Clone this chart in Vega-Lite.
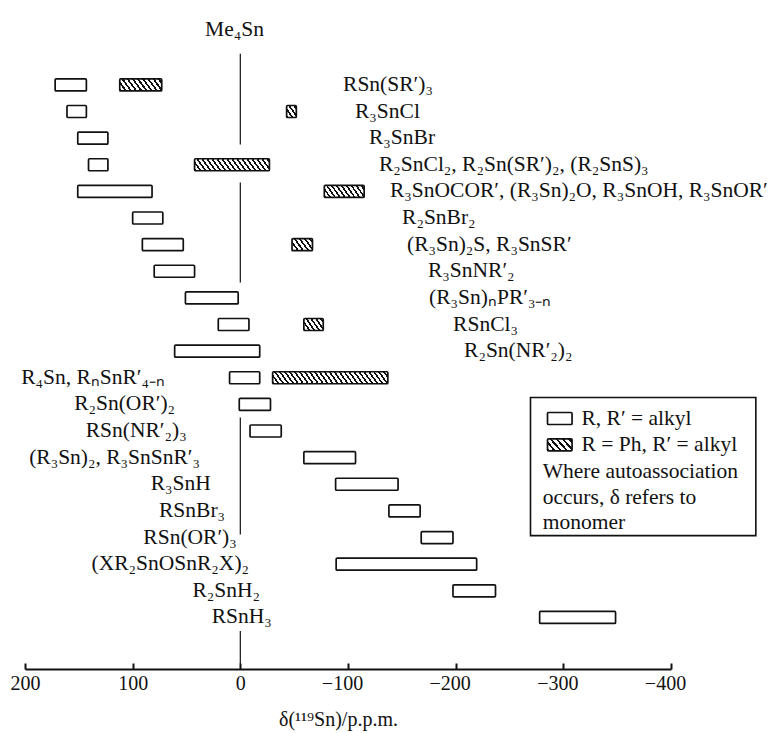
{
  "$schema": "https://vega.github.io/schema/vega-lite/v6.json",
  "width": 646,
  "height": 669,
  "autosize": {"type": "none"},
  "padding": {"left": 25, "top": 0, "right": 112, "bottom": 64},
  "background": "white",
  "config": {
    "view": {"stroke": null},
    "text": {"font": "Liberation Serif", "fontSize": 21.5, "color": "#111"},
    "axisX": {
      "grid": false,
      "domainColor": "#111", "domainWidth": 2,
      "tickColor": "#111", "tickWidth": 2, "tickSize": -6,
      "labelFont": "Liberation Serif", "labelFontSize": 20, "labelColor": "#111",
      "labelPadding": 10, "labelFlush": false, "labelOverlap": false,
      "titleFont": "Liberation Serif", "titleFontSize": 20, "titleFontWeight": "normal", "titleColor": "#111",
      "titleX": 313, "titleY": 56, "titleAlign": "center", "titleBaseline": "alphabetic"
    }
  },
  "datasets": {
    "bars": [
      {"row": 1, "type": "alkyl", "lo": 143, "hi": 172},
      {"row": 1, "type": "Ph", "lo": 73, "hi": 112},
      {"row": 2, "type": "alkyl", "lo": 143, "hi": 161},
      {"row": 2, "type": "Ph", "lo": -52, "hi": -43},
      {"row": 3, "type": "alkyl", "lo": 123, "hi": 151},
      {"row": 4, "type": "alkyl", "lo": 123, "hi": 141},
      {"row": 4, "type": "Ph", "lo": -27, "hi": 42.5},
      {"row": 5, "type": "alkyl", "lo": 82, "hi": 151},
      {"row": 5, "type": "Ph", "lo": -115, "hi": -78},
      {"row": 6, "type": "alkyl", "lo": 72, "hi": 100},
      {"row": 7, "type": "alkyl", "lo": 53, "hi": 91},
      {"row": 7, "type": "Ph", "lo": -67, "hi": -48},
      {"row": 8, "type": "alkyl", "lo": 42.5, "hi": 80},
      {"row": 9, "type": "alkyl", "lo": 2, "hi": 51},
      {"row": 10, "type": "alkyl", "lo": -8, "hi": 20.5},
      {"row": 10, "type": "Ph", "lo": -77, "hi": -59},
      {"row": 11, "type": "alkyl", "lo": -18, "hi": 61},
      {"row": 12, "type": "alkyl", "lo": -18, "hi": 10},
      {"row": 12, "type": "Ph", "lo": -137, "hi": -30},
      {"row": 13, "type": "alkyl", "lo": -28, "hi": 1},
      {"row": 14, "type": "alkyl", "lo": -38, "hi": -9},
      {"row": 15, "type": "alkyl", "lo": -107, "hi": -59},
      {"row": 16, "type": "alkyl", "lo": -146.5, "hi": -88.5},
      {"row": 17, "type": "alkyl", "lo": -167, "hi": -138},
      {"row": 18, "type": "alkyl", "lo": -197.5, "hi": -168},
      {"row": 19, "type": "alkyl", "lo": -219.5, "hi": -89},
      {"row": 20, "type": "alkyl", "lo": -237, "hi": -197.5},
      {"row": 21, "type": "alkyl", "lo": -348.5, "hi": -278}
    ],
    "labelsRight": [
      {"row": 1, "label": "RSn(SR′)₃", "at": -95.4},
      {"row": 2, "label": "R₃SnCl", "at": -106.5},
      {"row": 3, "label": "R₃SnBr", "at": -119.5},
      {"row": 4, "label": "R₂SnCl₂, R₂Sn(SR′)₂, (R₂SnS)₃", "at": -128.8},
      {"row": 5, "label": "R₃SnOCOR′, (R₃Sn)₂O, R₃SnOH, R₃SnOR′", "at": -139},
      {"row": 6, "label": "R₂SnBr₂", "at": -150.2},
      {"row": 7, "label": "(R₃Sn)₂S, R₃SnSR′", "at": -154.8},
      {"row": 8, "label": "R₃SnNR′₂", "at": -174.3},
      {"row": 9, "label": "(R₃Sn)ₙPR′₃₋ₙ", "at": -175.3},
      {"row": 10, "label": "RSnCl₃", "at": -197.6},
      {"row": 11, "label": "R₂Sn(NR′₂)₂", "at": -207.8}
    ],
    "labelsLeft": [
      {"row": 12, "label": "R₄Sn, RₙSnR′₄₋ₙ", "at": 69.9},
      {"row": 13, "label": "R₂Sn(OR′)₂", "at": 60.6},
      {"row": 14, "label": "RSn(NR′₂)₃", "at": 49.8},
      {"row": 15, "label": "(R₃Sn)₂, R₃SnSnR′₃", "at": 37.4},
      {"row": 16, "label": "R₃SnH", "at": 27.5},
      {"row": 17, "label": "RSnBr₃", "at": 14.2},
      {"row": 18, "label": "RSn(OR′)₃", "at": 3.3},
      {"row": 19, "label": "(XR₂SnOSnR₂X)₂", "at": -8.1},
      {"row": 20, "label": "R₂SnH₂", "at": -18.3},
      {"row": 21, "label": "RSnH₃", "at": -29.2}
    ],
    "stem": [
      {"x": 0, "y1": -0.17, "y2": 3.24},
      {"x": 0, "y1": 4.67, "y2": 8.42},
      {"x": 0, "y1": 13.49, "y2": 17.89},
      {"x": 0, "y1": 21.51, "y2": 22.75}
    ],
    "top": [{"label": "Me₄Sn", "at": 5.4, "row": -1.075}],
    "legendBox": [{"x1": -269.5, "x2": -478.8, "y1": 12.74, "y2": 17.93}],
    "legendKeys": [
      {"row": 13.53, "type": "alkyl", "lo": -308.1, "hi": -285.3, "label": "R, R′ = alkyl", "at": -316.9},
      {"row": 14.52, "type": "Ph", "lo": -308.1, "hi": -285.3, "label": "R = Ph, R′ = alkyl", "at": -316.9}
    ],
    "legendNote": [
      {"row": 15.55, "label": "Where autoassociation", "at": -280.9},
      {"row": 16.5, "label": "occurs, δ refers to", "at": -280.9},
      {"row": 17.45, "label": "monomer", "at": -280.9}
    ]
  },
  "layer": [
    {
      "data": {"name": "stem"},
      "mark": {"type": "rule", "color": "#222", "strokeWidth": 1.3},
      "encoding": {
        "x": {
          "field": "x", "type": "quantitative",
          "scale": {"domain": [-400, 200], "reverse": true, "nice": false, "zero": false},
          "axis": {
            "title": "δ(¹¹⁹Sn)/p.p.m.",
            "values": [200, 100, 0, -100, -200, -300, -400],
            "labelExpr": "datum.value < 0 ? '−' + format(-datum.value, 'd') : format(datum.value, 'd')",
            "labelOffset": {"condition": {"test": "datum.value < 0", "value": -6}, "value": 0}
          }
        },
        "y": {"field": "y1", "type": "quantitative", "scale": {"domain": [-2, 22.75], "reverse": true, "nice": false, "zero": false}, "axis": null},
        "y2": {"field": "y2"}
      }
    },
    {
      "data": {"name": "bars"},
      "mark": {"type": "bar", "orient": "horizontal", "size": 12, "stroke": "#111", "strokeWidth": 1.7, "cornerRadius": 1},
      "encoding": {
        "x": {"field": "lo", "type": "quantitative", "scale": {"domain": [-400, 200], "reverse": true, "nice": false, "zero": false}},
        "x2": {"field": "hi"},
        "y": {"field": "row", "type": "quantitative", "scale": {"domain": [-2, 22.75], "reverse": true, "nice": false, "zero": false}, "axis": null},
        "fill": {
          "condition": [
            {"test": "datum.type === 'Ph' && datum.hi - datum.lo < 14", "value": {"gradient": "linear", "x1": 0, "y1": 1, "x2": 1.0577, "y2": 0.0654, "stops": [
              {"offset": 0, "color": "#111"}, {"offset": 0.1095, "color": "#111"}, {"offset": 0.1095, "color": "#fff"}, {"offset": 0.2737, "color": "#fff"},
              {"offset": 0.2737, "color": "#111"}, {"offset": 0.3832, "color": "#111"}, {"offset": 0.3832, "color": "#fff"}, {"offset": 0.5474, "color": "#fff"},
              {"offset": 0.5474, "color": "#111"}, {"offset": 0.6569, "color": "#111"}, {"offset": 0.6569, "color": "#fff"}, {"offset": 0.8211, "color": "#fff"},
              {"offset": 0.8211, "color": "#111"}, {"offset": 0.9306, "color": "#111"}, {"offset": 0.9306, "color": "#fff"}, {"offset": 1, "color": "#fff"}
            ]}},
            {"test": "datum.type === 'Ph' && datum.hi - datum.lo < 28", "value": {"gradient": "linear", "x1": 0, "y1": 1, "x2": 1.2069, "y2": 0.4828, "stops": [
              {"offset": 0, "color": "#111"}, {"offset": 0.07, "color": "#111"}, {"offset": 0.07, "color": "#fff"}, {"offset": 0.175, "color": "#fff"},
              {"offset": 0.175, "color": "#111"}, {"offset": 0.245, "color": "#111"}, {"offset": 0.245, "color": "#fff"}, {"offset": 0.35, "color": "#fff"},
              {"offset": 0.35, "color": "#111"}, {"offset": 0.42, "color": "#111"}, {"offset": 0.42, "color": "#fff"}, {"offset": 0.525, "color": "#fff"},
              {"offset": 0.525, "color": "#111"}, {"offset": 0.595, "color": "#111"}, {"offset": 0.595, "color": "#fff"}, {"offset": 0.7, "color": "#fff"},
              {"offset": 0.7, "color": "#111"}, {"offset": 0.77, "color": "#111"}, {"offset": 0.77, "color": "#fff"}, {"offset": 0.875, "color": "#fff"},
              {"offset": 0.875, "color": "#111"}, {"offset": 0.945, "color": "#111"}, {"offset": 0.945, "color": "#fff"}, {"offset": 1, "color": "#fff"}
            ]}},
            {"test": "datum.type === 'Ph' && datum.hi - datum.lo < 55", "value": {"gradient": "linear", "x1": 0, "y1": 1, "x2": 1.1597, "y2": 0.7546, "stops": [
              {"offset": 0, "color": "#111"}, {"offset": 0.0408, "color": "#111"}, {"offset": 0.0408, "color": "#fff"}, {"offset": 0.1019, "color": "#fff"},
              {"offset": 0.1019, "color": "#111"}, {"offset": 0.1427, "color": "#111"}, {"offset": 0.1427, "color": "#fff"}, {"offset": 0.2038, "color": "#fff"},
              {"offset": 0.2038, "color": "#111"}, {"offset": 0.2446, "color": "#111"}, {"offset": 0.2446, "color": "#fff"}, {"offset": 0.3057, "color": "#fff"},
              {"offset": 0.3057, "color": "#111"}, {"offset": 0.3465, "color": "#111"}, {"offset": 0.3465, "color": "#fff"}, {"offset": 0.4076, "color": "#fff"},
              {"offset": 0.4076, "color": "#111"}, {"offset": 0.4484, "color": "#111"}, {"offset": 0.4484, "color": "#fff"}, {"offset": 0.5095, "color": "#fff"},
              {"offset": 0.5095, "color": "#111"}, {"offset": 0.5503, "color": "#111"}, {"offset": 0.5503, "color": "#fff"}, {"offset": 0.6114, "color": "#fff"},
              {"offset": 0.6114, "color": "#111"}, {"offset": 0.6522, "color": "#111"}, {"offset": 0.6522, "color": "#fff"}, {"offset": 0.7133, "color": "#fff"},
              {"offset": 0.7133, "color": "#111"}, {"offset": 0.7541, "color": "#111"}, {"offset": 0.7541, "color": "#fff"}, {"offset": 0.8152, "color": "#fff"},
              {"offset": 0.8152, "color": "#111"}, {"offset": 0.856, "color": "#111"}, {"offset": 0.856, "color": "#fff"}, {"offset": 0.9171, "color": "#fff"},
              {"offset": 0.9171, "color": "#111"}, {"offset": 0.9579, "color": "#111"}, {"offset": 0.9579, "color": "#fff"}, {"offset": 1, "color": "#fff"}
            ]}},
            {"test": "datum.type === 'Ph' && datum.hi - datum.lo < 90", "value": {"gradient": "linear", "x1": 0, "y1": 1, "x2": 1.1002, "y2": 0.8739, "stops": [
              {"offset": 0, "color": "#111"}, {"offset": 0.024, "color": "#111"}, {"offset": 0.024, "color": "#fff"}, {"offset": 0.06, "color": "#fff"},
              {"offset": 0.06, "color": "#111"}, {"offset": 0.084, "color": "#111"}, {"offset": 0.084, "color": "#fff"}, {"offset": 0.12, "color": "#fff"},
              {"offset": 0.12, "color": "#111"}, {"offset": 0.144, "color": "#111"}, {"offset": 0.144, "color": "#fff"}, {"offset": 0.18, "color": "#fff"},
              {"offset": 0.18, "color": "#111"}, {"offset": 0.204, "color": "#111"}, {"offset": 0.204, "color": "#fff"}, {"offset": 0.24, "color": "#fff"},
              {"offset": 0.24, "color": "#111"}, {"offset": 0.264, "color": "#111"}, {"offset": 0.264, "color": "#fff"}, {"offset": 0.3, "color": "#fff"},
              {"offset": 0.3, "color": "#111"}, {"offset": 0.324, "color": "#111"}, {"offset": 0.324, "color": "#fff"}, {"offset": 0.36, "color": "#fff"},
              {"offset": 0.36, "color": "#111"}, {"offset": 0.384, "color": "#111"}, {"offset": 0.384, "color": "#fff"}, {"offset": 0.42, "color": "#fff"},
              {"offset": 0.42, "color": "#111"}, {"offset": 0.444, "color": "#111"}, {"offset": 0.444, "color": "#fff"}, {"offset": 0.48, "color": "#fff"},
              {"offset": 0.48, "color": "#111"}, {"offset": 0.504, "color": "#111"}, {"offset": 0.504, "color": "#fff"}, {"offset": 0.54, "color": "#fff"},
              {"offset": 0.54, "color": "#111"}, {"offset": 0.564, "color": "#111"}, {"offset": 0.564, "color": "#fff"}, {"offset": 0.6, "color": "#fff"},
              {"offset": 0.6, "color": "#111"}, {"offset": 0.624, "color": "#111"}, {"offset": 0.624, "color": "#fff"}, {"offset": 0.66, "color": "#fff"},
              {"offset": 0.66, "color": "#111"}, {"offset": 0.684, "color": "#111"}, {"offset": 0.684, "color": "#fff"}, {"offset": 0.72, "color": "#fff"},
              {"offset": 0.72, "color": "#111"}, {"offset": 0.744, "color": "#111"}, {"offset": 0.744, "color": "#fff"}, {"offset": 0.78, "color": "#fff"},
              {"offset": 0.78, "color": "#111"}, {"offset": 0.804, "color": "#111"}, {"offset": 0.804, "color": "#fff"}, {"offset": 0.84, "color": "#fff"},
              {"offset": 0.84, "color": "#111"}, {"offset": 0.864, "color": "#111"}, {"offset": 0.864, "color": "#fff"}, {"offset": 0.9, "color": "#fff"},
              {"offset": 0.9, "color": "#111"}, {"offset": 0.924, "color": "#111"}, {"offset": 0.924, "color": "#fff"}, {"offset": 0.96, "color": "#fff"},
              {"offset": 0.96, "color": "#111"}, {"offset": 0.984, "color": "#111"}, {"offset": 0.984, "color": "#fff"}, {"offset": 1, "color": "#fff"}
            ]}},
            {"test": "datum.type === 'Ph'", "value": {"gradient": "linear", "x1": 0, "y1": 1, "x2": 1.0685, "y2": 0.9205, "stops": [
              {"offset": 0, "color": "#111"}, {"offset": 0.016, "color": "#111"}, {"offset": 0.016, "color": "#fff"}, {"offset": 0.04, "color": "#fff"},
              {"offset": 0.04, "color": "#111"}, {"offset": 0.056, "color": "#111"}, {"offset": 0.056, "color": "#fff"}, {"offset": 0.08, "color": "#fff"},
              {"offset": 0.08, "color": "#111"}, {"offset": 0.096, "color": "#111"}, {"offset": 0.096, "color": "#fff"}, {"offset": 0.12, "color": "#fff"},
              {"offset": 0.12, "color": "#111"}, {"offset": 0.136, "color": "#111"}, {"offset": 0.136, "color": "#fff"}, {"offset": 0.16, "color": "#fff"},
              {"offset": 0.16, "color": "#111"}, {"offset": 0.176, "color": "#111"}, {"offset": 0.176, "color": "#fff"}, {"offset": 0.2, "color": "#fff"},
              {"offset": 0.2, "color": "#111"}, {"offset": 0.216, "color": "#111"}, {"offset": 0.216, "color": "#fff"}, {"offset": 0.24, "color": "#fff"},
              {"offset": 0.24, "color": "#111"}, {"offset": 0.256, "color": "#111"}, {"offset": 0.256, "color": "#fff"}, {"offset": 0.28, "color": "#fff"},
              {"offset": 0.28, "color": "#111"}, {"offset": 0.296, "color": "#111"}, {"offset": 0.296, "color": "#fff"}, {"offset": 0.32, "color": "#fff"},
              {"offset": 0.32, "color": "#111"}, {"offset": 0.336, "color": "#111"}, {"offset": 0.336, "color": "#fff"}, {"offset": 0.36, "color": "#fff"},
              {"offset": 0.36, "color": "#111"}, {"offset": 0.376, "color": "#111"}, {"offset": 0.376, "color": "#fff"}, {"offset": 0.4, "color": "#fff"},
              {"offset": 0.4, "color": "#111"}, {"offset": 0.416, "color": "#111"}, {"offset": 0.416, "color": "#fff"}, {"offset": 0.44, "color": "#fff"},
              {"offset": 0.44, "color": "#111"}, {"offset": 0.456, "color": "#111"}, {"offset": 0.456, "color": "#fff"}, {"offset": 0.48, "color": "#fff"},
              {"offset": 0.48, "color": "#111"}, {"offset": 0.496, "color": "#111"}, {"offset": 0.496, "color": "#fff"}, {"offset": 0.52, "color": "#fff"},
              {"offset": 0.52, "color": "#111"}, {"offset": 0.536, "color": "#111"}, {"offset": 0.536, "color": "#fff"}, {"offset": 0.56, "color": "#fff"},
              {"offset": 0.56, "color": "#111"}, {"offset": 0.576, "color": "#111"}, {"offset": 0.576, "color": "#fff"}, {"offset": 0.6, "color": "#fff"},
              {"offset": 0.6, "color": "#111"}, {"offset": 0.616, "color": "#111"}, {"offset": 0.616, "color": "#fff"}, {"offset": 0.64, "color": "#fff"},
              {"offset": 0.64, "color": "#111"}, {"offset": 0.656, "color": "#111"}, {"offset": 0.656, "color": "#fff"}, {"offset": 0.68, "color": "#fff"},
              {"offset": 0.68, "color": "#111"}, {"offset": 0.696, "color": "#111"}, {"offset": 0.696, "color": "#fff"}, {"offset": 0.72, "color": "#fff"},
              {"offset": 0.72, "color": "#111"}, {"offset": 0.736, "color": "#111"}, {"offset": 0.736, "color": "#fff"}, {"offset": 0.76, "color": "#fff"},
              {"offset": 0.76, "color": "#111"}, {"offset": 0.776, "color": "#111"}, {"offset": 0.776, "color": "#fff"}, {"offset": 0.8, "color": "#fff"},
              {"offset": 0.8, "color": "#111"}, {"offset": 0.816, "color": "#111"}, {"offset": 0.816, "color": "#fff"}, {"offset": 0.84, "color": "#fff"},
              {"offset": 0.84, "color": "#111"}, {"offset": 0.856, "color": "#111"}, {"offset": 0.856, "color": "#fff"}, {"offset": 0.88, "color": "#fff"},
              {"offset": 0.88, "color": "#111"}, {"offset": 0.896, "color": "#111"}, {"offset": 0.896, "color": "#fff"}, {"offset": 0.92, "color": "#fff"},
              {"offset": 0.92, "color": "#111"}, {"offset": 0.936, "color": "#111"}, {"offset": 0.936, "color": "#fff"}, {"offset": 0.96, "color": "#fff"},
              {"offset": 0.96, "color": "#111"}, {"offset": 0.976, "color": "#111"}, {"offset": 0.976, "color": "#fff"}, {"offset": 1, "color": "#fff"}
            ]}}
          ],
          "value": "white"
        }
      }
    },
    {
      "data": {"name": "labelsRight"},
      "mark": {"type": "text", "align": "left", "baseline": "alphabetic", "dy": 6},
      "encoding": {
        "x": {"field": "at", "type": "quantitative", "scale": {"domain": [-400, 200], "reverse": true, "nice": false, "zero": false}},
        "y": {"field": "row", "type": "quantitative", "scale": {"domain": [-2, 22.75], "reverse": true, "nice": false, "zero": false}, "axis": null},
        "text": {"field": "label"}
      }
    },
    {
      "data": {"name": "labelsLeft"},
      "mark": {"type": "text", "align": "right", "baseline": "alphabetic", "dy": 6},
      "encoding": {
        "x": {"field": "at", "type": "quantitative", "scale": {"domain": [-400, 200], "reverse": true, "nice": false, "zero": false}},
        "y": {"field": "row", "type": "quantitative", "scale": {"domain": [-2, 22.75], "reverse": true, "nice": false, "zero": false}, "axis": null},
        "text": {"field": "label"}
      }
    },
    {
      "data": {"name": "top"},
      "mark": {"type": "text", "align": "center", "baseline": "alphabetic", "dy": 6},
      "encoding": {
        "x": {"field": "at", "type": "quantitative", "scale": {"domain": [-400, 200], "reverse": true, "nice": false, "zero": false}},
        "y": {"field": "row", "type": "quantitative", "scale": {"domain": [-2, 22.75], "reverse": true, "nice": false, "zero": false}, "axis": null},
        "text": {"field": "label"}
      }
    },
    {
      "data": {"name": "legendBox"},
      "mark": {"type": "rect", "fill": "white", "stroke": "#111", "strokeWidth": 1.6},
      "encoding": {
        "x": {"field": "x1", "type": "quantitative", "scale": {"domain": [-400, 200], "reverse": true, "nice": false, "zero": false}},
        "x2": {"field": "x2"},
        "y": {"field": "y1", "type": "quantitative", "scale": {"domain": [-2, 22.75], "reverse": true, "nice": false, "zero": false}, "axis": null},
        "y2": {"field": "y2"}
      }
    },
    {
      "data": {"name": "legendKeys"},
      "mark": {"type": "bar", "orient": "horizontal", "size": 12, "stroke": "#111", "strokeWidth": 1.7, "cornerRadius": 1},
      "encoding": {
        "x": {"field": "lo", "type": "quantitative", "scale": {"domain": [-400, 200], "reverse": true, "nice": false, "zero": false}},
        "x2": {"field": "hi"},
        "y": {"field": "row", "type": "quantitative", "scale": {"domain": [-2, 22.75], "reverse": true, "nice": false, "zero": false}, "axis": null},
        "fill": {
          "condition": {"test": "datum.type === 'Ph'", "value": {"gradient": "linear", "x1": 0, "y1": 1, "x2": 1.2069, "y2": 0.4828, "stops": [
              {"offset": 0, "color": "#111"}, {"offset": 0.07, "color": "#111"}, {"offset": 0.07, "color": "#fff"}, {"offset": 0.175, "color": "#fff"},
              {"offset": 0.175, "color": "#111"}, {"offset": 0.245, "color": "#111"}, {"offset": 0.245, "color": "#fff"}, {"offset": 0.35, "color": "#fff"},
              {"offset": 0.35, "color": "#111"}, {"offset": 0.42, "color": "#111"}, {"offset": 0.42, "color": "#fff"}, {"offset": 0.525, "color": "#fff"},
              {"offset": 0.525, "color": "#111"}, {"offset": 0.595, "color": "#111"}, {"offset": 0.595, "color": "#fff"}, {"offset": 0.7, "color": "#fff"},
              {"offset": 0.7, "color": "#111"}, {"offset": 0.77, "color": "#111"}, {"offset": 0.77, "color": "#fff"}, {"offset": 0.875, "color": "#fff"},
              {"offset": 0.875, "color": "#111"}, {"offset": 0.945, "color": "#111"}, {"offset": 0.945, "color": "#fff"}, {"offset": 1, "color": "#fff"}
            ]}},
          "value": "white"
        }
      }
    },
    {
      "data": {"name": "legendKeys"},
      "mark": {"type": "text", "align": "left", "baseline": "alphabetic", "dy": 6},
      "encoding": {
        "x": {"field": "at", "type": "quantitative", "scale": {"domain": [-400, 200], "reverse": true, "nice": false, "zero": false}},
        "y": {"field": "row", "type": "quantitative", "scale": {"domain": [-2, 22.75], "reverse": true, "nice": false, "zero": false}, "axis": null},
        "text": {"field": "label"}
      }
    },
    {
      "data": {"name": "legendNote"},
      "mark": {"type": "text", "align": "left", "baseline": "alphabetic", "dy": 6},
      "encoding": {
        "x": {"field": "at", "type": "quantitative", "scale": {"domain": [-400, 200], "reverse": true, "nice": false, "zero": false}},
        "y": {"field": "row", "type": "quantitative", "scale": {"domain": [-2, 22.75], "reverse": true, "nice": false, "zero": false}, "axis": null},
        "text": {"field": "label"}
      }
    }
  ]
}
